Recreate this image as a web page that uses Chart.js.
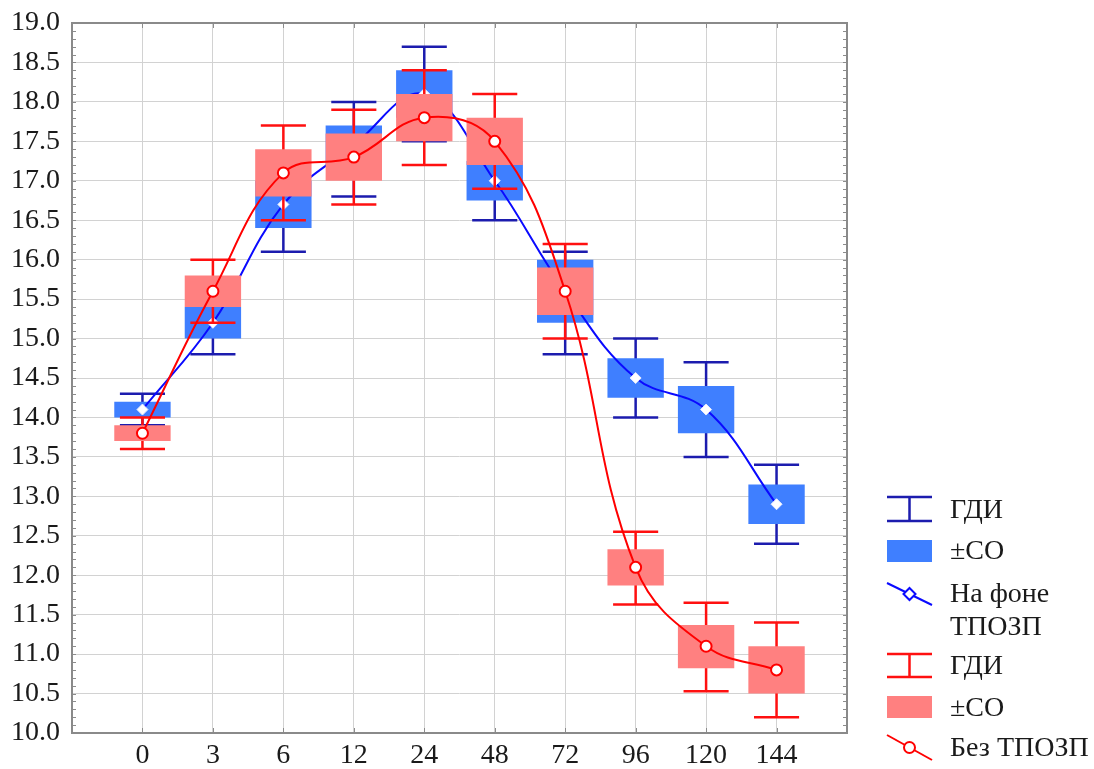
<!DOCTYPE html>
<html>
<head>
<meta charset="utf-8">
<title>ГДИ</title>
<script src="https://cdn.jsdelivr.net/npm/chart.js@4/dist/chart.umd.min.js"></script>
<style>
    html, body { margin: 0; padding: 0; background: #fff; }
    #wrap { width: 1094px; height: 769px; }
</style>
</head>
<body>
<div id="wrap"><canvas id="chart" width="1094" height="769"></canvas></div>
<script>
// Hours (x categories)
const labels = ['0', '3', '6', '12', '24', '48', '72', '96', '120', '144'];

// На фоне ТПОЗП (blue)
const blueMean = [14.1, 15.2, 16.7, 17.45, 18.1, 17.0, 15.6, 14.5, 14.1, 12.9];
const blueBoxLow = [14.0, 15.0, 16.4, 17.2, 17.8, 16.75, 15.2, 14.25, 13.8, 12.65];
const blueBoxHigh = [14.2, 15.4, 17.0, 17.7, 18.4, 17.25, 16.0, 14.75, 14.4, 13.15];
const blueWhiskLow = [13.9, 14.8, 16.1, 16.8, 17.5, 16.5, 14.8, 14.0, 13.5, 12.4];
const blueWhiskHigh = [14.3, 15.6, 17.3, 18.0, 18.7, 17.5, 16.1, 15.0, 14.7, 13.4];

// Без ТПОЗП (red)
const redMean = [13.8, 15.6, 17.1, 17.3, 17.8, 17.5, 15.6, 12.1, 11.1, 10.8];
const redBoxLow = [13.7, 15.4, 16.8, 17.0, 17.5, 17.2, 15.3, 11.87, 10.82, 10.5];
const redBoxHigh = [13.9, 15.8, 17.4, 17.6, 18.1, 17.8, 15.9, 12.33, 11.37, 11.1];
const redWhiskLow = [13.6, 15.2, 16.5, 16.7, 17.2, 16.9, 15.0, 11.63, 10.53, 10.2];
const redWhiskHigh = [14.0, 16.0, 17.7, 17.9, 18.4, 18.1, 16.2, 12.55, 11.65, 11.4];

const yTicksMin = 10;
const yTicksMax = 19;

const BLUE_BOX = '#3f7fff';
const BLUE_WHISK = '#1c1cae';
const BLUE_LINE = '#0a0aff';
const RED_BOX = '#ff8080';
const RED_WHISK = '#ff1010';
const RED_LINE = '#ff0000';
const FONT = '"Liberation Serif", "Times New Roman", serif';
const TEXT = '#1a1a1a';

function toPoints(arr) {
    return arr.map((v, i) => ({ x: i, y: v }));
}
function toRanges(lo, hi) {
    return lo.map((v, i) => ({ x: i, y: [v, hi[i]] }));
}

// whiskers drawn just before their box dataset
const whiskers = {
    0: { lo: blueWhiskLow, hi: blueWhiskHigh, color: BLUE_WHISK },
    2: { lo: redWhiskLow, hi: redWhiskHigh, color: RED_WHISK },
};

const whiskerPlugin = {
    id: 'whiskers',
    beforeDatasetDraw(chart, args) {
        const w = whiskers[args.index];
        if (!w) return;
        const x = chart.scales.x;
        const y = chart.scales.y;
        const ctx = chart.ctx;
        ctx.save();
        ctx.strokeStyle = w.color;
        ctx.lineWidth = 2.5;
        w.lo.forEach((lo, i) => {
            const px = x.getPixelForValue(i);
            const half = x.getPixelForValue(i + 0.32) - px;
            const yLo = y.getPixelForValue(lo);
            const yHi = y.getPixelForValue(w.hi[i]);
            ctx.beginPath();
            ctx.moveTo(px, yLo);
            ctx.lineTo(px, yHi);
            ctx.moveTo(px - half, yLo);
            ctx.lineTo(px + half, yLo);
            ctx.moveTo(px - half, yHi);
            ctx.lineTo(px + half, yHi);
            ctx.stroke();
        });
        ctx.restore();
    }
};

// frame and minor ticks
const framePlugin = {
    id: 'frame',
    afterDraw(chart) {
        const ctx = chart.ctx;
        const a = chart.chartArea;
        const x = chart.scales.x;
        const y = chart.scales.y;
        ctx.save();
        ctx.strokeStyle = '#8c8c8c';
        ctx.lineWidth = 1;
        for (let v = yTicksMin * 10; v <= yTicksMax * 10; v++) {
            const py = Math.round(y.getPixelForValue(v / 10)) + 0.5;
            ctx.beginPath();
            ctx.moveTo(a.left, py);
            ctx.lineTo(a.left + 4, py);
            ctx.moveTo(a.right, py);
            ctx.lineTo(a.right - 4, py);
            ctx.stroke();
        }
        for (let i = 0; i < labels.length; i++) {
            const px = Math.round(x.getPixelForValue(i)) + 0.5;
            ctx.beginPath();
            ctx.moveTo(px, a.bottom);
            ctx.lineTo(px, a.bottom - 5);
            ctx.moveTo(px, a.top);
            ctx.lineTo(px, a.top + 5);
            ctx.stroke();
        }
        ctx.strokeStyle = '#8a8a8a';
        ctx.lineWidth = 2;
        ctx.strokeRect(a.left, a.top, a.right - a.left, a.bottom - a.top);
        ctx.restore();
    }
};

// legend on the right
const legendPlugin = {
    id: 'sideLegend',
    afterDraw(chart) {
        const ctx = chart.ctx;
        const x0 = 887, x1 = 932, xm = 909.5, tx = 950;
        ctx.save();
        ctx.font = '28px ' + FONT;
        ctx.fillStyle = TEXT;
        ctx.textBaseline = 'middle';

        function whisk(yTop, yBot, color) {
            ctx.strokeStyle = color;
            ctx.lineWidth = 2.5;
            ctx.beginPath();
            ctx.moveTo(x0, yTop); ctx.lineTo(x1, yTop);
            ctx.moveTo(x0, yBot); ctx.lineTo(x1, yBot);
            ctx.moveTo(xm, yTop); ctx.lineTo(xm, yBot);
            ctx.stroke();
        }
        function box(yTop, yBot, color) {
            ctx.fillStyle = color;
            ctx.fillRect(x0, yTop, x1 - x0, yBot - yTop);
            ctx.fillStyle = TEXT;
        }
        function line(yA, yB, color, marker) {
            ctx.strokeStyle = color;
            ctx.lineWidth = 2;
            ctx.beginPath();
            ctx.moveTo(x0, yA); ctx.lineTo(x1, yB);
            ctx.stroke();
            const ym = (yA + yB) / 2;
            ctx.fillStyle = '#fff';
            ctx.beginPath();
            if (marker === 'diamond') {
                ctx.moveTo(xm, ym - 6); ctx.lineTo(xm + 6, ym);
                ctx.lineTo(xm, ym + 6); ctx.lineTo(xm - 6, ym);
                ctx.closePath();
            } else {
                ctx.arc(xm, ym, 5.5, 0, Math.PI * 2);
            }
            ctx.fill();
            ctx.stroke();
            ctx.fillStyle = TEXT;
        }

        whisk(497, 521, BLUE_WHISK);
        ctx.fillText('ГДИ', tx, 511);
        box(540, 562, BLUE_BOX);
        ctx.fillText('±СО', tx, 552);
        line(583, 605, BLUE_LINE, 'diamond');
        ctx.fillText('На фоне', tx, 595);
        ctx.fillText('ТПОЗП', tx, 628);
        whisk(654, 677, RED_WHISK);
        ctx.fillText('ГДИ', tx, 667);
        box(696, 718, RED_BOX);
        ctx.fillText('±СО', tx, 709);
        line(735, 760, RED_LINE, 'circle');
        ctx.fillText('Без ТПОЗП', tx, 749);
        ctx.restore();
    }
};

new Chart(document.getElementById('chart'), {
    data: {
        datasets: [
            {
                type: 'bar',
                label: '±СО (на фоне ТПОЗП)',
                data: toRanges(blueBoxLow, blueBoxHigh),
                backgroundColor: BLUE_BOX,
                borderWidth: 0,
                grouped: false,
                barPercentage: 1,
                categoryPercentage: 0.8,
                order: 6,
            },
            {
                type: 'line',
                label: 'На фоне ТПОЗП',
                data: toPoints(blueMean),
                borderColor: BLUE_LINE,
                borderWidth: 2,
                tension: 0.4,
                pointStyle: 'rectRot',
                pointRadius: 5.5,
                pointBackgroundColor: '#fff',
                pointBorderColor: '#e8ecff',
                pointBorderWidth: 1,
                order: 5,
            },
            {
                type: 'bar',
                label: '±СО (без ТПОЗП)',
                data: toRanges(redBoxLow, redBoxHigh),
                backgroundColor: RED_BOX,
                borderWidth: 0,
                grouped: false,
                barPercentage: 1,
                categoryPercentage: 0.8,
                order: 4,
            },
            {
                type: 'line',
                label: 'Без ТПОЗП',
                data: toPoints(redMean),
                borderColor: RED_LINE,
                borderWidth: 2,
                tension: 0.4,
                pointStyle: 'circle',
                pointRadius: 5.5,
                pointBackgroundColor: '#fff',
                pointBorderColor: RED_LINE,
                pointBorderWidth: 2,
                order: 3,
            },
        ],
    },
    options: {
        responsive: false,
        animation: false,
        layout: { padding: { top: 23, right: 247, bottom: 0, left: 0 } },
        plugins: {
            legend: { display: false },
            tooltip: { enabled: false },
        },
        scales: {
            x: {
                type: 'linear',
                min: -1,
                max: 10,
                offset: false,
                afterFit(scale) {
                    scale.height = 36;
                    scale.paddingLeft = 0;
                    scale.paddingRight = 0;
                },
                afterBuildTicks(scale) {
                    scale.ticks = [];
                    for (let v = -1; v <= 10; v++) scale.ticks.push({ value: v });
                },
                ticks: {
                    callback: (v) => labels[v] !== undefined ? labels[v] : '',
                    font: { family: FONT, size: 28 },
                    color: TEXT,
                    padding: 6,
                    maxRotation: 0,
                    autoSkip: false,
                },
                grid: { color: '#d2d2d2', lineWidth: 1, drawTicks: false, offset: false },
                border: { display: false },
            },
            y: {
                min: yTicksMin,
                max: yTicksMax,
                afterFit(scale) {
                    scale.width = 72;
                    scale.paddingTop = 0;
                    scale.paddingBottom = 0;
                },
                ticks: {
                    stepSize: 0.5,
                    callback: (v) => v.toFixed(1),
                    font: { family: FONT, size: 28 },
                    color: TEXT,
                    padding: 12,
                },
                grid: { color: '#d2d2d2', lineWidth: 1, drawTicks: false },
                border: { display: false },
            },
        },
    },
    plugins: [whiskerPlugin, framePlugin, legendPlugin],
});
</script>
</body>
</html>
